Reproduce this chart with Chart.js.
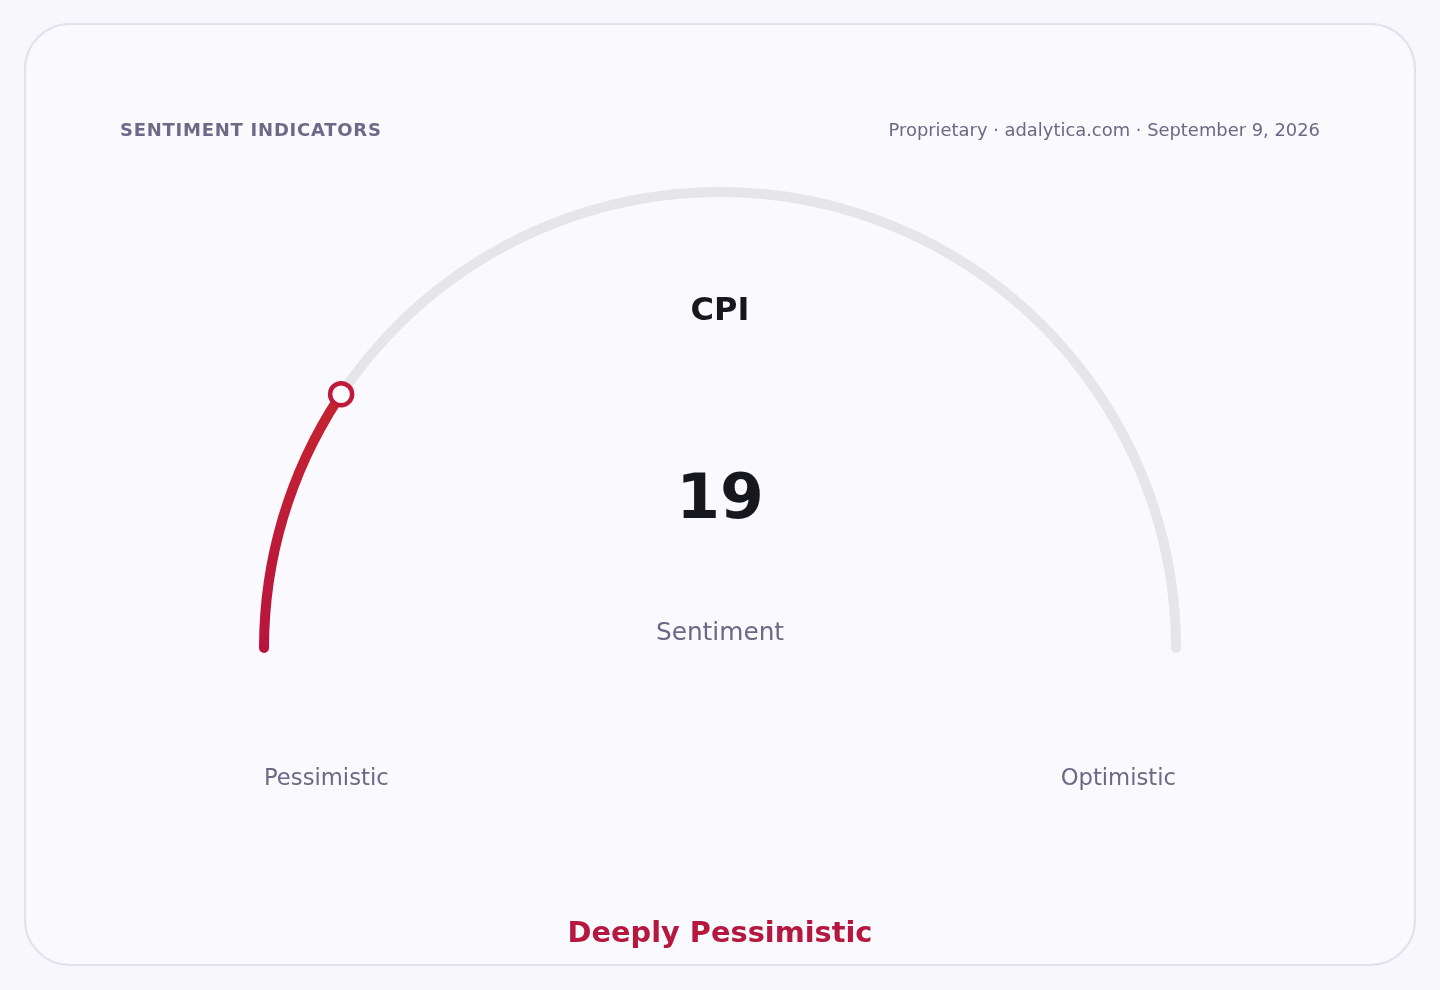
<!DOCTYPE html>
<html>
<head>
<meta charset="utf-8">
<title>CPI Sentiment</title>
<script src="https://cdn.jsdelivr.net/npm/chart.js@4.4.1/dist/chart.umd.min.js"></script>
<style>
  html, body {
    margin: 0;
    padding: 0;
    width: 1440px;
    height: 990px;
    background: #f8f8fc;
    font-family: "DejaVu Sans", sans-serif;
    overflow: hidden;
  }
  .card {
    position: absolute;
    left: 24px;
    top: 23px;
    width: 1388px;
    height: 939px;
    border: 2px solid #e2e1ee;
    border-radius: 46px;
    background: #f9f9fe;
  }
  #gauge {
    position: absolute;
    left: 0;
    top: 0;
  }
  .txt {
    position: absolute;
    white-space: nowrap;
    line-height: 1;
  }
  .title {
    left: 120px;
    top: 121px;
    font-size: 18px;
    font-weight: bold;
    letter-spacing: 0.75px;
    color: #6d6a88;
  }
  .source {
    right: 120px;
    top: 121px;
    font-size: 17.9px;
    color: #6b6983;
  }
  .center {
    left: 0;
    width: 1440px;
    text-align: center;
  }
</style>
</head>
<body>
<div class="card"></div>
<canvas id="gauge" width="1440" height="990"></canvas>

<div class="txt title">SENTIMENT INDICATORS</div>
<div class="txt source">Proprietary · adalytica.com · September 9, 2026</div>
<div class="txt center" id="metricName" style="top:293px;font-size:32px;font-weight:bold;color:#17171e;"></div>
<div class="txt center" id="metricValue" style="top:465px;font-size:63px;font-weight:bold;color:#17171e;"></div>
<div class="txt center" id="metricLabel" style="top:620px;font-size:24.8px;color:#6b6985;"></div>
<div class="txt" id="lowLabel" style="left:264px;top:766px;font-size:22.7px;color:#6b6985;"></div>
<div class="txt" id="highLabel" style="right:264px;top:766px;font-size:22.7px;color:#6b6985;"></div>
<div class="txt center" id="verdict" style="top:918px;font-size:28.8px;font-weight:bold;color:#b5173f;"></div>

<script>
// gauge data
const metricName = "CPI";
const metricLabel = "Sentiment";
const scaleLabels = ["Pessimistic", "Optimistic"];
const scaleRange = [0, 100];
const sentimentValue = [19];
const verdictText = "Deeply Pessimistic";

// ring a bit past 180deg so the rounded ends stick out below the centre line
const CAP_DEG = 0.63;

document.addEventListener("DOMContentLoaded", () => {
  document.getElementById("metricName").textContent = metricName;
  document.getElementById("metricValue").textContent = sentimentValue[0];
  document.getElementById("metricLabel").textContent = metricLabel;
  document.getElementById("lowLabel").textContent = scaleLabels[0];
  document.getElementById("highLabel").textContent = scaleLabels[1];
  document.getElementById("verdict").textContent = verdictText;

  initGauge();
});

function initGauge() {
  const canvas = document.getElementById("gauge");
  const ctx = canvas.getContext("2d");

  const value = sentimentValue[0];
  const rest = scaleRange[1] - scaleRange[0] - value;

  // red part fades from crimson (bottom) to warmer red (top)
  const grad = ctx.createLinearGradient(0, 650, 0, 390);
  grad.addColorStop(0, "#b8143f");
  grad.addColorStop(1, "#c4242f");

  // ring marker at the end of the filled part
  const markerPlugin = {
    id: "marker",
    afterDatasetsDraw(chart) {
      const arc = chart.getDatasetMeta(0).data[0];
      if (!arc) return;
      const { x, y, endAngle, innerRadius, outerRadius } = arc.getProps(
        ["x", "y", "endAngle", "innerRadius", "outerRadius"],
        true
      );
      const r = (innerRadius + outerRadius) / 2;
      const mx = x + Math.cos(endAngle) * r;
      const my = y + Math.sin(endAngle) * r;
      const c = chart.ctx;
      c.save();
      c.beginPath();
      c.arc(mx, my, 11, 0, Math.PI * 2);
      c.fillStyle = "#fbfbfe";
      c.fill();
      c.lineWidth = 4.5;
      c.strokeStyle = "#bf1a3a";
      c.stroke();
      c.restore();
    },
  };

  // eslint-disable-next-line no-undef
  new Chart(ctx, {
    type: "doughnut",
    data: {
      labels: ["Sentiment", "Remaining"],
      datasets: [
        {
          data: [value, rest],
          backgroundColor: [grad, "#e5e5ea"],
          borderWidth: 0,
          borderRadius: 5,
          clip: false,
        },
      ],
    },
    options: {
      responsive: false,
      animation: false,
      rotation: -90 - CAP_DEG,
      circumference: 180 + 2 * CAP_DEG,
      radius: 461,
      cutout: "97.83%",
      layout: {
        padding: { left: 259, right: 259, top: 190, bottom: 340 },
      },
      plugins: {
        legend: { display: false },
        tooltip: { enabled: false },
      },
      events: [],
    },
    plugins: [markerPlugin],
  });
}
</script>
</body>
</html>
